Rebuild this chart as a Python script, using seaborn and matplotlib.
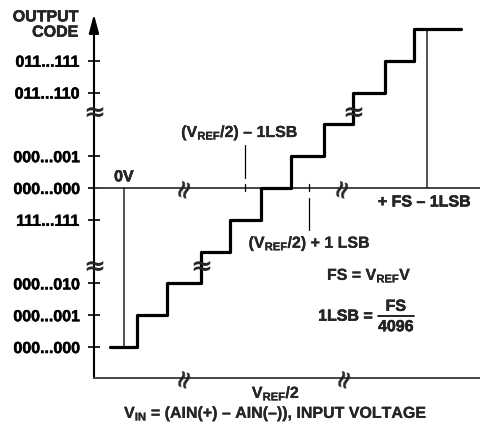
"""
Ideal ADC transfer function (bipolar / twos complement coding)
"""

import pandas as pd
import seaborn as sns
import matplotlib.pyplot as plt
import matplotlib.patheffects as pe

# %% Data
# input voltage axis in LSB units (0V at 0, +FS - 1LSB at 10), code levels as display slots
step_x = [0.46, 1.44, 2.56, 3.51, 4.52, 5.51, 6.59, 7.54, 8.59, 9.54]
step_code = [1, 2, 3, 4, 5, 6, 7, 8, 9, 10]
x_start, x_end = -0.43, 11.08
code_start = 0

tick_slots = [0, 1, 2, 4, 5, 6, 8, 9]
tick_labels = ['000...000', '000...001', '000...010', '111...111',
               '000...000', '000...001', '011...110', '011...111']

zero_v_x = 0.03
fs_x = 9.97
vref_half_minus_x = 4.0
vref_half_plus_x = 6.1
vref_half_x = 5.02

yaxis_x = -0.95
bottom_y = -0.97
mid_y = 5

staircase = pd.DataFrame({
    'vin': [x_start] + step_x + [x_end],
    'code': [code_start] + step_code + [step_code[-1]],
})

# %% Style
sns.set_style('white')
plt.rcParams['font.family'] = ['Liberation Sans', 'DejaVu Sans']
plt.rcParams['font.weight'] = 'bold'
plt.rcParams['mathtext.fontset'] = 'custom'
plt.rcParams['mathtext.rm'] = 'Liberation Sans:bold'
plt.rcParams['mathtext.it'] = 'Liberation Sans:bold'
plt.rcParams['mathtext.bf'] = 'Liberation Sans:bold'
plt.rcParams['mathtext.default'] = 'bf'

# slightly heavier text, the original uses a black-weight grotesque
heavy = [pe.withStroke(linewidth=0.35, foreground='black')]
light = [pe.withStroke(linewidth=0.15, foreground='black')]

fig = plt.figure(figsize=(4.81, 4.24), dpi=100)
ax = fig.add_axes([0, 0, 1, 1])
ax.set_xlim(-4.03, 11.74)
ax.set_ylim(-2.42, 10.91)

# staircase
sns.lineplot(data=staircase, x='vin', y='code', drawstyle='steps-post', estimator=None,
             sort=False, color='black', lw=2.3, ax=ax)

# axes lines
for side in ['top', 'right']:
    ax.spines[side].set_visible(False)
ax.spines['left'].set_position(('data', yaxis_x))
ax.spines['left'].set_bounds(bottom_y, 10.2)
ax.spines['left'].set_linewidth(1.5)
ax.spines['left'].set_color('black')
ax.spines['bottom'].set_position(('data', bottom_y))
ax.spines['bottom'].set_bounds(yaxis_x, 11.74)
ax.spines['bottom'].set_linewidth(1.4)
ax.spines['bottom'].set_color('#444444')
ax.set_xticks([])
ax.set_yticks(tick_slots, tick_labels)
ax.tick_params(axis='y', direction='inout', length=8.6, width=1.2, pad=5.6,
               labelsize=11.5, colors='black', left=True)
for lbl in ax.get_yticklabels():
    lbl.set_path_effects(heavy)
ax.set_xlabel('')
ax.set_ylabel('')
ax.plot([yaxis_x, 11.74], [mid_y, mid_y], color='#444444', lw=1.4, zorder=1)
ax.annotate('', xy=(yaxis_x, 10.55), xytext=(yaxis_x, 10.1),
            arrowprops=dict(arrowstyle='-|>,head_length=0.75,head_width=0.2',
                            color='black', lw=1.5, mutation_scale=15))

# thin reference verticals
ax.plot([zero_v_x, zero_v_x], [mid_y, code_start], color='#222222', lw=1.1, zorder=1)
ax.plot([fs_x, fs_x], [step_code[-1], mid_y], color='#222222', lw=1.1, zorder=1)
ax.plot([vref_half_minus_x] * 2, [6.35, 5.31], color='black', lw=0.9)
ax.plot([vref_half_minus_x] * 2, [5.11, 4.89], color='black', lw=0.9)
ax.plot([vref_half_plus_x] * 2, [5.11, 4.89], color='black', lw=0.9)
ax.plot([vref_half_plus_x] * 2, [4.69, 3.68], color='black', lw=0.9)

# break marks
for bx, by in [(yaxis_x, 7.36), (yaxis_x, 2.52), (2.56, 2.52), (7.54, 7.36)]:
    ax.text(bx, by, '≈', ha='center', va='center', fontsize=19,
            family='DejaVu Sans', fontweight='bold')
for bx, by in [(2.03, mid_y), (7.2, mid_y), (2.03, bottom_y), (7.28, bottom_y)]:
    ax.text(bx, by, '≈', ha='center', va='center', fontsize=18, rotation=72,
            family='DejaVu Sans', fontweight='bold')

# annotations
fs = 11.5
plain = [
    ax.text(-1.46, 10.38, 'OUTPUT', ha='right', va='center', fontsize=fs),
    ax.text(-1.46, 9.9, 'CODE', ha='right', va='center', fontsize=fs),
    ax.text(zero_v_x, 5.35, '0V', ha='center', va='center', fontsize=fs),
    ax.text(9.89, 4.56, '+ FS – 1LSB', ha='center', va='center', fontsize=fs),
    ax.text(8.2, 0.97, '1LSB =', ha='right', va='center', fontsize=fs),
    ax.text(8.95, 1.28, 'FS', ha='center', va='center', fontsize=fs),
    ax.text(8.95, 0.64, '4096', ha='center', va='center', fontsize=fs),
]
subscripted = [
    ax.text(3.84, 6.6, r'($V_{REF}$/2) – 1LSB', ha='center', va='baseline', fontsize=fs),
    ax.text(6.13, 3.12, r'($V_{REF}$/2) + 1 LSB', ha='center', va='baseline', fontsize=fs),
    ax.text(6.69, 2.11, r'FS = $V_{REF}$V', ha='left', va='baseline', fontsize=fs),
    ax.text(vref_half_x, -1.6, r'$V_{REF}$/2', ha='center', va='baseline', fontsize=fs),
    ax.text(vref_half_x, -2.23, r'$V_{IN}$ = (AIN(+) – AIN(–)), INPUT VOLTAGE',
            ha='center', va='baseline', fontsize=fs),
]
for t in plain:
    t.set_path_effects(heavy)
for t in subscripted:
    t.set_path_effects(light)
ax.plot([8.36, 9.54], [0.97, 0.97], color='black', lw=1.2)

plt.savefig('out.png', dpi=100)
